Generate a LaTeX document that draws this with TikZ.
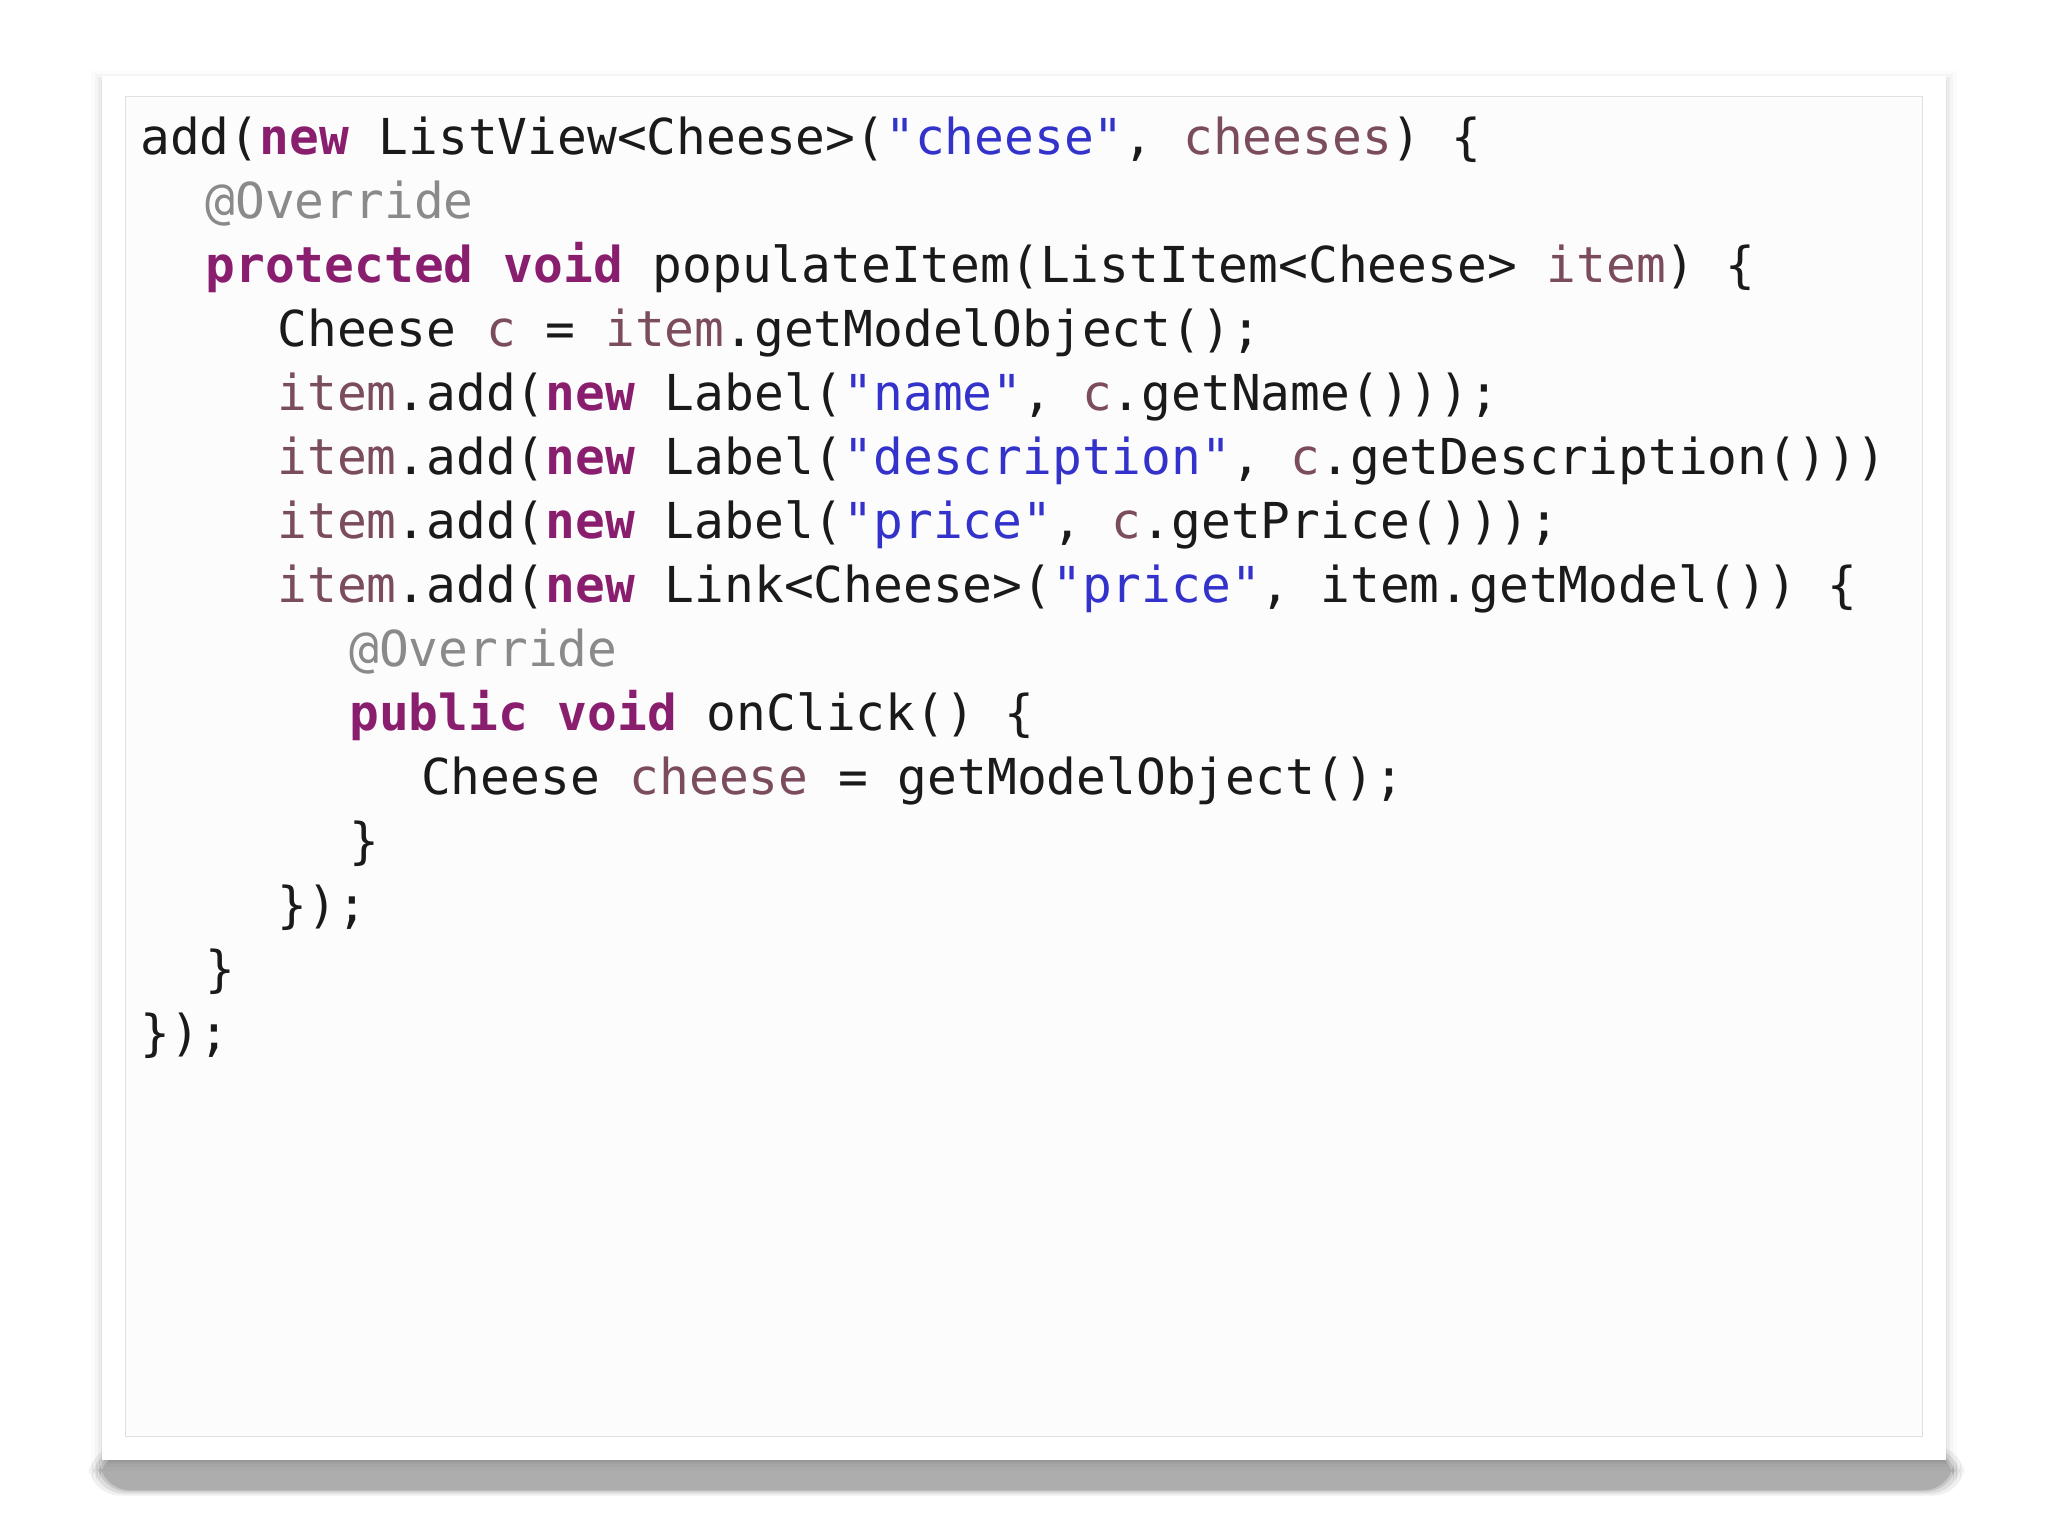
\documentclass[tikz,border=0pt]{standalone}
\usepackage{fontspec}
\newfontfamily\code{DejaVu Sans Mono}
\definecolor{kwc}{HTML}{8A1E6E}
\definecolor{strc}{HTML}{3333CC}
\definecolor{idc}{HTML}{7B4B5E}
\definecolor{anc}{HTML}{8A8A8A}
\definecolor{txc}{HTML}{1A1A1A}
\newcommand{\kw}[1]{\textcolor{kwc}{\bfseries #1}}
\newcommand{\st}[1]{\textcolor{strc}{#1}}
\newcommand{\iv}[1]{\textcolor{idc}{#1}}
\newcommand{\an}[1]{\textcolor{anc}{#1}}
\tikzset{ln/.style={anchor=base west,inner sep=0,text=txc,font=\code\fontsize{18.95pt}{24pt}\selectfont}}
\begin{document}
\begin{tikzpicture}[x=0.5pt,y=-0.5pt]
\useasboundingbox (0,0) rectangle (1568,1176);
\fill[white] (0,0) rectangle (1568,1176);
\foreach \i/\o in {8/0.015,5/0.025,3/0.035,1/0.045}{
  \fill[black,opacity=\o] (78-\i,58-\i+4) rectangle (1490+\i,1118+\i);}
\foreach \i/\o in {10/0.06,7/0.08,4/0.1,2/0.12}{
  \fill[black,opacity=\o,rounded corners=12] (78-\i,1112-\i/2) rectangle (1494+\i,1140+\i/2);}
\fill[white] (78,58) rectangle (1490,1118);
\draw[black!12,fill=black!1] (96,74) rectangle (1472,1100);
\node[ln] (l1) at (107,118) {add(\kw{new} ListView<Cheese>(\st{"cheese"}, \iv{cheeses}) \{};
\node[ln] (l2) at (157,167) {\an{@Override}};
\node[ln] (l3) at (157,216) {\kw{protected} \kw{void} populateItem(ListItem<Cheese> \iv{item}) \{};
\node[ln] (l4) at (212,265) {Cheese \iv{c} = \iv{item}.getModelObject();};
\node[ln] (l5) at (212,314) {\iv{item}.add(\kw{new} Label(\st{"name"}, \iv{c}.getName()));};
\node[ln] (l6) at (212,363) {\iv{item}.add(\kw{new} Label(\st{"description"}, \iv{c}.getDescription()))};
\node[ln] (l7) at (212,412) {\iv{item}.add(\kw{new} Label(\st{"price"}, \iv{c}.getPrice()));};
\node[ln] (l8) at (212,461) {\iv{item}.add(\kw{new} Link<Cheese>(\st{"price"}, item.getModel()) \{};
\node[ln] (l9) at (267,510) {\an{@Override}};
\node[ln] (l10) at (267,559) {\kw{public} \kw{void} onClick() \{};
\node[ln] (l11) at (322,608) {Cheese \iv{cheese} = getModelObject();};
\node[ln] (l12) at (267,657) {\}};
\node[ln] (l13) at (212,706) {\});};
\node[ln] (l14) at (157,755) {\}};
\node[ln] (l15) at (107,804) {\});};
\end{tikzpicture}
\end{document}
